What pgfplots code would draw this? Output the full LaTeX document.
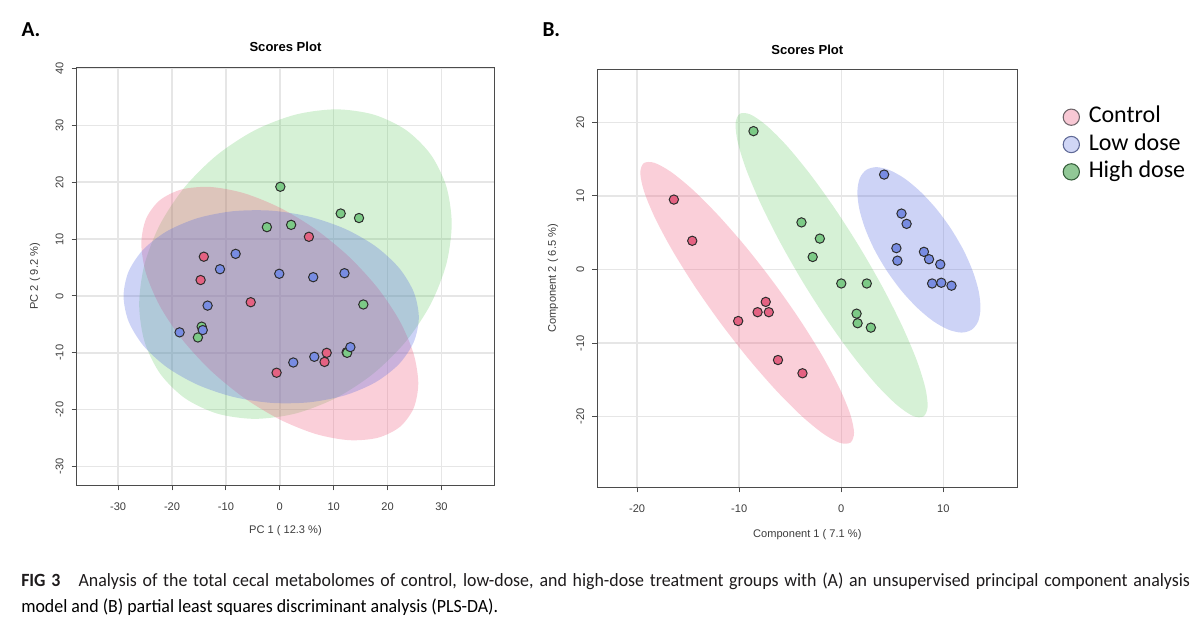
\documentclass[border=0pt]{standalone}
\usepackage{pgfplots}
\pgfplotsset{compat=1.18}
\usepackage{graphicx}
\usepackage{fontspec}
\setmainfont{Liberation Sans}
\newfontfamily\carlito{Carlito}

% ellipse fills (drawn semi-transparent)
\definecolor{ellred}{RGB}{240,96,128}
\definecolor{ellgreen}{RGB}{90,200,90}
\definecolor{ellblue}{RGB}{90,110,225}
% sample points
\definecolor{ptred}{RGB}{228,98,130}
\definecolor{ptgreen}{RGB}{124,202,134}
\definecolor{ptblue}{RGB}{120,140,226}
\definecolor{ptedge}{RGB}{45,45,45}
% legend swatches
\definecolor{legred}{RGB}{248,200,212}
\definecolor{legrededge}{RGB}{110,100,105}
\definecolor{legblue}{RGB}{208,214,246}
\definecolor{legblueedge}{RGB}{95,105,150}
\definecolor{leggreen}{RGB}{145,200,150}
\definecolor{leggreenedge}{RGB}{55,95,60}
% frame and text
\definecolor{gridgray}{RGB}{230,230,230}
\definecolor{boxgray}{RGB}{75,75,75}
\definecolor{labgray}{RGB}{60,60,60}
\definecolor{captext}{RGB}{30,27,28}

\pgfplotsset{
  scoreaxis/.style={
    scale only axis,
    anchor=north west,
    axis line style={boxgray, line width=0.9pt},
    tick style={boxgray, line width=0.8pt},
    major tick length=3.75pt,
    tick align=outside,
    tick pos=left,
    grid=major,
    major grid style={gridgray, line width=1.1pt},
    ticklabel style={font=\fontsize{8.3}{10}\selectfont, text=labgray},
    xticklabel style={anchor=center, yshift=-12.4pt},
    yticklabel style={anchor=center, xshift=-9pt, rotate=90},
  },
  ell/.style 2 args={draw=none, fill=#1, fill opacity=#2, smooth cycle, forget plot},
  pts/.style={only marks, mark=*, mark size=3.5pt,
    mark options={fill=#1, draw=ptedge, line width=0.75pt}, forget plot},
}

% caption: the second line sets the horizontal scale, the first line is justified
\newsavebox\capB
\newcommand\capfont{\carlito\fontsize{14}{19.5}\selectfont}

\begin{document}
\sbox\capB{\capfont model and (B) partial least squares discriminant analysis (PLS-DA).}%
\pgfmathsetmacro\capscale{357.75/\the\wd\capB}%
\pgfmathsetlengthmacro\capAwidth{876.75/\capscale}%
\begin{tikzpicture}
\useasboundingbox (0pt,0pt) rectangle (900pt,-472.5pt);

% ---------------- Panel A: PCA scores ----------------
\begin{axis}[scoreaxis, at={(57.5pt,-50.5pt)}, width=313.2pt, height=313.5pt,
  xmin=-37.7, xmax=39.8, ymin=-33.3, ymax=40.2,
  xtick={-30,-20,-10,0,10,20,30}, xticklabels={-30,-20,-10,0,10,20,30},
  ytick={-30,-20,-10,0,10,20,30,40}, yticklabels={-30,-20,-10,0,10,20,30,40}]
% 95% regions
\addplot[ell={ellgreen}{0.25}] coordinates {(31.9,12.67) (30.91,19.23) (28.01,24.86)
  (23.41,29.18) (17.4,31.89) (10.41,32.81) (2.9,31.88) (-4.61,29.15) (-11.6,24.82)
  (-17.61,19.18) (-22.21,12.62) (-25.11,5.57) (-26.1,-1.47) (-25.11,-8.03) (-22.21,-13.66)
  (-17.61,-17.98) (-11.6,-20.69) (-4.61,-21.61) (2.9,-20.68) (10.41,-17.95) (17.4,-13.62)
  (23.41,-7.98) (28.01,-1.42) (30.91,5.63)};
\addplot[ell={ellred}{0.3}] coordinates {(25.7,-15.37) (24.82,-10.13) (22.26,-4.42)
  (18.17,1.39) (12.85,6.89) (6.65,11.71) (0,15.52) (-6.65,18.07) (-12.85,19.16)
  (-18.17,18.74) (-22.26,16.84) (-24.82,13.57) (-25.7,9.17) (-24.82,3.93) (-22.26,-1.78)
  (-18.17,-7.59) (-12.85,-13.09) (-6.65,-17.91) (0,-21.72) (6.65,-24.27) (12.85,-25.36)
  (18.17,-24.94) (22.26,-23.04) (24.82,-19.77)};
\addplot[ell={ellblue}{0.3}] coordinates {(25.8,-3.77) (24.87,0.66) (22.13,4.93)
  (17.77,8.73) (12.1,11.8) (5.49,13.94) (-1.6,15.0) (-8.69,14.9) (-15.3,13.67)
  (-20.97,11.37) (-25.33,8.17) (-28.07,4.28) (-29.0,-0.03) (-28.07,-4.46) (-25.33,-8.73)
  (-20.97,-12.53) (-15.3,-15.6) (-8.69,-17.74) (-1.6,-18.8) (5.49,-18.7) (12.1,-17.47)
  (17.77,-15.17) (22.13,-11.97) (24.87,-8.08)};
% samples
\addplot[pts=ptred] coordinates {(5.4,10.4) (-14.1,6.9) (-14.7,2.8) (-5.4,-1.1)
  (8.7,-10.0) (8.3,-11.6) (-0.6,-13.5) (12.4,-9.9)};
\addplot[pts=ptgreen] coordinates {(0.1,19.2) (11.3,14.5) (14.7,13.7) (-2.4,12.1)
  (2.1,12.5) (15.5,-1.5) (-14.5,-5.4) (-15.2,-7.3) (12.5,-10.0)};
\addplot[pts=ptblue] coordinates {(-8.2,7.4) (-11.1,4.7) (-0.1,3.9) (6.2,3.3) (12.0,4.0)
  (-13.4,-1.7) (-18.6,-6.4) (-14.3,-6.0) (2.5,-11.7) (6.4,-10.7) (13.1,-9.0)};
\end{axis}

% ---------------- Panel B: PLS-DA scores ----------------
\begin{axis}[scoreaxis, at={(448pt,-52pt)}, width=315pt, height=313.5pt,
  xmin=-23.9, xmax=17.25, ymin=-29.6, ymax=27.2,
  xtick={-20,-10,0,10}, xticklabels={-20,-10,0,10},
  ytick={-20,-10,0,10,20}, yticklabels={-20,-10,0,10,20},
  legend cell align=left,
  legend style={at={(1.099,0.922)}, anchor=north west, draw=none, fill=none,
    font=\carlito\fontsize{18}{20}\selectfont, row sep=2pt, column sep=6pt,
    nodes={inner sep=1pt, text height=12.5pt, text depth=4pt}}]
\addlegendimage{only marks, mark=*, mark size=6.1pt,
  mark options={fill=legred, draw=legrededge, line width=0.8pt}}
\addlegendentry{Control}
\addlegendimage{only marks, mark=*, mark size=6.1pt,
  mark options={fill=legblue, draw=legblueedge, line width=0.8pt}}
\addlegendentry{Low dose}
\addlegendimage{only marks, mark=*, mark size=6.1pt,
  mark options={fill=leggreen, draw=leggreenedge, line width=0.8pt}}
\addlegendentry{High dose}
% 95% regions
\addplot[ell={ellred}{0.3}] coordinates {(0.91,-23.51) (1.25,-22.16) (0.87,-19.62)
  (-0.20,-16.04) (-1.88,-11.68) (-4.06,-6.83) (-6.59,-1.83) (-9.30,2.99) (-12.01,7.30)
  (-14.52,10.80) (-16.68,13.26) (-18.32,14.50) (-19.35,14.45) (-19.69,13.10)
  (-19.31,10.56) (-18.24,6.98) (-16.56,2.62) (-14.38,-2.23) (-11.85,-7.23) (-9.14,-12.05)
  (-6.43,-16.36) (-3.92,-19.86) (-1.76,-22.32) (-0.12,-23.56)};
\addplot[ell={ellgreen}{0.25}] coordinates {(8.04,-19.98) (8.46,-18.67) (8.23,-16.05)
  (7.38,-12.29) (5.96,-7.66) (4.07,-2.46) (1.84,2.94) (-0.58,8.18) (-3.03,12.91)
  (-5.33,16.80) (-7.34,19.58) (-8.91,21.07) (-9.94,21.16) (-10.36,19.85) (-10.13,17.23)
  (-9.28,13.47) (-7.86,8.84) (-5.97,3.64) (-3.74,-1.76) (-1.32,-7.00) (1.13,-11.73)
  (3.43,-15.62) (5.44,-18.40) (7.01,-19.89)};
\addplot[ell={ellblue}{0.3}] coordinates {(12.76,-8.20) (13.40,-7.09) (13.64,-5.31)
  (13.47,-2.99) (12.90,-0.29) (11.98,2.62) (10.75,5.53) (9.31,8.25) (7.75,10.58)
  (6.19,12.38) (4.72,13.51) (3.45,13.91) (2.46,13.54) (1.82,12.43) (1.58,10.65)
  (1.75,8.33) (2.32,5.63) (3.24,2.72) (4.47,-0.19) (5.91,-2.91) (7.47,-5.24)
  (9.03,-7.04) (10.50,-8.17) (11.77,-8.57)};
% samples
\addplot[pts=ptred] coordinates {(-16.4,9.5) (-14.6,3.9) (-10.1,-7.0) (-8.2,-5.8)
  (-7.4,-4.4) (-7.1,-5.8) (-6.2,-12.3) (-3.8,-14.1)};
\addplot[pts=ptgreen] coordinates {(-8.6,18.8) (-3.9,6.4) (-2.1,4.2) (-2.8,1.7) (0.0,-1.9)
  (2.5,-1.9) (1.5,-6.0) (1.6,-7.3) (2.9,-7.9)};
\addplot[pts=ptblue] coordinates {(4.2,12.9) (5.9,7.6) (6.4,6.2) (5.4,2.9) (5.5,1.2)
  (8.1,2.4) (8.6,1.4) (9.7,0.7) (8.9,-1.9) (9.8,-1.8) (10.8,-2.2)};
\end{axis}

% titles, axis labels and panel letters
\node[font=\bfseries\fontsize{9.8}{12}\selectfont] at (214.1pt,-35.25pt) {Scores Plot};
\node[font=\bfseries\fontsize{9.8}{12}\selectfont] at (605.5pt,-37.5pt) {Scores Plot};
\node[font=\fontsize{8.3}{10}\selectfont, text=labgray] at (214.1pt,-398.25pt) {PC 1 ( 12.3 \%)};
\node[font=\fontsize{8.3}{10}\selectfont, text=labgray] at (605.5pt,-401.25pt) {Component 1 ( 7.1 \%)};
\node[font=\fontsize{8.3}{10}\selectfont, text=labgray, rotate=90] at (26.25pt,-207.2pt) {PC 2 ( 9.2 \%)};
\node[font=\fontsize{8.3}{10}\selectfont, text=labgray, rotate=90] at (414.75pt,-208.7pt) {Component 2 ( 6.5 \%)};
\node[font=\carlito\bfseries\fontsize{16}{18}\selectfont] at (23.2pt,-22.5pt) {A.};
\node[font=\carlito\bfseries\fontsize{16}{18}\selectfont] at (413.5pt,-22.5pt) {B.};

% caption
\node[anchor=base west, inner sep=0pt, text=captext] at (15.75pt,-439.65pt)
  {\scalebox{\capscale}[1]{\makebox[\capAwidth][s]{\capfont\textbf{FIG 3}\hspace{0.7em} Analysis of the total cecal metabolomes of control, low-dose, and high-dose treatment groups with (A) an unsupervised principal component analysis}}};
\node[anchor=base west, inner sep=0pt, text=captext] at (15.75pt,-459.15pt)
  {\scalebox{\capscale}[1]{\usebox\capB}};
\end{tikzpicture}
\end{document}
